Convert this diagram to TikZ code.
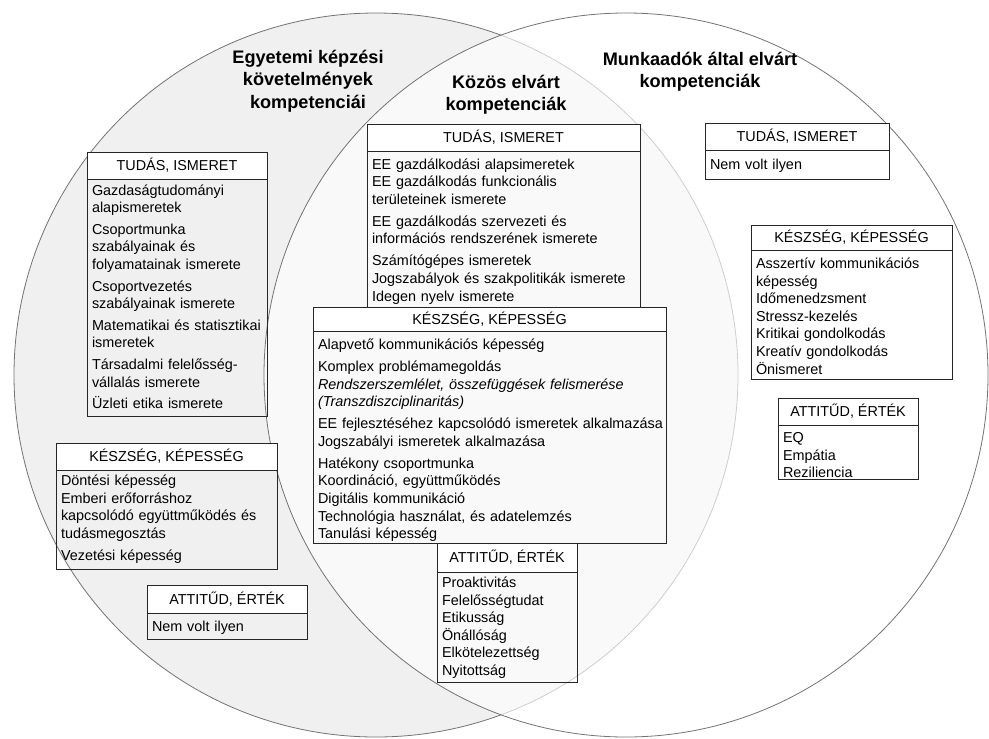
\documentclass[tikz,border=0pt]{standalone}
\usepackage{fontspec}
\setmainfont{Liberation Sans}
\usetikzlibrary{positioning}
\newcommand{\fejbetu}{\fontsize{10.8}{13.2}\selectfont}
\newcommand{\cimbetu}{\fontsize{13.6}{16.8}\selectfont\bfseries}
\hyphenpenalty=10000
\exhyphenpenalty=10000
\tikzset{
  halmaz/.style = {draw=black!55, line width=0.6pt},
  fejlec/.style = {draw=black!85, fill=white, line width=0.6pt, inner sep=0pt, font=\fejbetu},
  lista/.style = {draw=black!85, line width=0.6pt, anchor=north, align=left, inner xsep=3.75pt, inner ysep=0pt, font=\fejbetu},
  cim/.style = {align=center, font=\cimbetu},
}

\begin{document}
\begin{tikzpicture}[x=0.75pt, y=-0.75pt]
  \useasboundingbox (0,0) rectangle (989,739);
  % the two sets
  \draw[halmaz, fill=black!6] (376,375) circle (362);
  \draw[halmaz, fill=white, fill opacity=0.65] (626,375) circle (362);
  % titles
  \node[cim] (cimEgy) at (308,81) {Egyetemi képzési\\követelmények\\kompetenciái};
  \node[cim] (cimKoz) at (506,95) {Közös elvárt\\kompetenciák};
  \node[cim] (cimMun) at (700,72) {Munkaadók által elvárt\\kompetenciák};

  % left: egyetemi
  \node[fejlec, minimum width=135pt, minimum height=20.25pt] (egyT) at (177,165.5) {TUDÁS, ISMERET};
  \node[lista, below=0pt of egyT, text width=127.5pt, text height=11.5pt, text depth=166.25pt] (egyTl)
    {Gazdaságtudományi\\alapismeretek\\[3pt]
     Csoportmunka\\szabályainak és\\folyamatainak ismerete\\[3pt]
     Csoportvezetés\\szabályainak ismerete\\[3pt]
     Matematikai és statisztikai\\ismeretek\\[3pt]
     Társadalmi felelősség-\\vállalás ismerete\\[3pt]
     Üzleti etika ismerete};
  \node[fejlec, minimum width=165.75pt, minimum height=20.25pt] (egyK) at (166.5,456.5) {KÉSZSÉG, KÉPESSÉG};
  \node[lista, below=0pt of egyK, text width=158.25pt, text height=11pt, text depth=63.2pt] (egyKl)
    {Döntési képesség\\Emberi erőforráshoz\\kapcsolódó együttműködés és\\tudásmegosztás\\[3.3pt]
     Vezetési képesség};
  \node[fejlec, minimum width=120pt, minimum height=21pt] (egyA) at (227,599) {ATTITŰD, ÉRTÉK};
  \node[lista, below=0pt of egyA, text width=112.5pt, text height=13.3pt, text depth=6.2pt] (egyAl)
    {Nem volt ilyen};

  % middle: kozos
  \node[fejlec, minimum width=204.75pt, minimum height=20.25pt] (kozT) at (503.5,137.5) {TUDÁS, ISMERET};
  \node[lista, below=0pt of kozT, text width=197.25pt, text height=13pt, text depth=107.5pt] (kozTl)
    {EE gazdálkodási alapsimeretek\\EE gazdálkodás funkcionális\\területeinek ismerete\\[3.3pt]
     EE gazdálkodás szervezeti és\\információs rendszerének ismerete\\[3.3pt]
     Számítógépes ismeretek\\Jogszabályok és szakpolitikák ismerete\\Idegen nyelv ismerete};
  \node[fejlec, minimum width=264.75pt, minimum height=18pt] (kozK) at (489.5,319) {KÉSZSÉG, KÉPESSÉG};
  \node[lista, below=0pt of kozK, text width=257.25pt, text height=13.3pt, text depth=145.7pt] (kozKl)
    {Alapvető kommunikációs képesség\\[3.3pt]
     Komplex problémamegoldás\\
     \textit{Rendszerszemlélet, összefüggések felismerése}\\
     \textit{(Transzdiszciplinaritás)}\\[3.3pt]
     \mbox{EE fejlesztéséhez kapcsolódó ismeretek alkalmazása}\\
     Jogszabályi ismeretek alkalmazása\\[3.3pt]
     Hatékony csoportmunka\\Koordináció, együttműködés\\Digitális kommunikáció\\
     Technológia használat, és adatelemzés\\Tanulási képesség};
  \node[fejlec, minimum width=105pt, minimum height=21.75pt] (kozA) at (507,557.5) {ATTITŰD, ÉRTÉK};
  \node[lista, below=0pt of kozA, text width=97.5pt, text height=11pt, text depth=71.5pt] (kozAl)
    {Proaktivitás\\Felelősségtudat\\Etikusság\\Önállóság\\Elkötelezettség\\Nyitottság};

  % right: munkaadok
  \node[fejlec, minimum width=138pt, minimum height=20.25pt] (munT) at (797,136.5) {TUDÁS, ISMERET};
  \node[lista, below=0pt of munT, text width=130.5pt, text height=14pt, text depth=7.7pt] (munTl)
    {Nem volt ilyen};
  \node[fejlec, minimum width=150.75pt, minimum height=18.75pt] (munK) at (851.5,237.5) {KÉSZSÉG, KÉPESSÉG};
  \node[lista, below=0pt of munK, text width=143.25pt, text height=13.3pt, text depth=83.5pt] (munKl)
    {Asszertív kommunikációs\\képesség\\Időmenedzsment\\Stressz-kezelés\\Kritikai gondolkodás\\Kreatív gondolkodás\\Önismeret};
  \node[fejlec, minimum width=105pt, minimum height=20.25pt] (munA) at (848,411.5) {ATTITŰD, ÉRTÉK};
  \node[lista, below=0pt of munA, text width=97.5pt, text height=12.5pt, text depth=28pt] (munAl)
    {EQ\\Empátia\\Reziliencia};
\end{tikzpicture}
\end{document}
